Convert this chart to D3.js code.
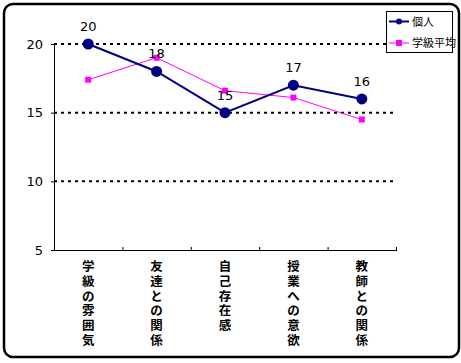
<!DOCTYPE html>
<html>
<head>
<meta charset="utf-8">
<script src="https://cdn.jsdelivr.net/npm/d3@7"></script>
<style>
  html, body { margin: 0; padding: 0; background: #fff; }
  svg { display: block; font-family: "Noto Sans CJK JP", "DejaVu Sans", sans-serif; }
</style>
</head>
<body>
<div id="chart"></div>
<script>
// categories and values
const categories = ["学級の雰囲気", "友達との関係", "自己存在感", "授業への意欲", "教師との関係"];
const personal = [20, 18, 15, 17, 16];
const classAvg = [17.4, 19.0, 16.6, 16.1, 14.5];
const yTicks = [5, 10, 15, 20];
const seriesNames = ["個人", "学級平均"];

const W = 461, H = 363;
const plot = { left: 54, right: 396, top: 44, bottom: 250 };

const svg = d3.select("#chart").append("svg")
    .attr("width", W)
    .attr("height", H);

// outer rounded frame
svg.append("rect")
    .attr("x", 4).attr("y", 4)
    .attr("width", 455).attr("height", 353)
    .attr("rx", 9).attr("ry", 9)
    .attr("fill", "#fff")
    .attr("stroke", "#000")
    .attr("stroke-width", 2.5);

const x = d3.scaleBand()
    .domain(categories)
    .range([plot.left, plot.right]);

const y = d3.scaleLinear()
    .domain([5, 20])
    .range([plot.bottom, plot.top]);

const cx = d => x(d) + x.bandwidth() / 2;

// dotted gridlines
svg.append("g")
    .selectAll("line")
    .data(yTicks.filter(t => t > 5))
    .enter()
    .append("line")
    .attr("x1", plot.left)
    .attr("x2", plot.right)
    .attr("y1", d => y(d))
    .attr("y2", d => y(d))
    .attr("stroke", "#000")
    .attr("stroke-width", 2)
    .attr("stroke-dasharray", "3,4");

// y axis
const yAxis = svg.append("g")
    .attr("transform", `translate(${plot.left},0)`)
    .call(d3.axisLeft(y).tickValues(yTicks).tickSize(3).tickPadding(8));
yAxis.select(".domain").attr("stroke", "#000").attr("d", `M0.5,${plot.top}V${plot.bottom + 0.5}`);
yAxis.selectAll("text")
    .style("font-family", "'DejaVu Sans', sans-serif")
    .style("font-size", "13px")
    .attr("fill", "#000");

// x axis (ticks at band boundaries, pointing up)
svg.append("line")
    .attr("x1", plot.left).attr("x2", plot.right + 1)
    .attr("y1", plot.bottom + 0.5).attr("y2", plot.bottom + 0.5)
    .attr("stroke", "#000");
svg.append("g")
    .selectAll("line")
    .data(categories)
    .enter()
    .append("line")
    .attr("x1", d => x(d) + x.bandwidth() + 0.5)
    .attr("x2", d => x(d) + x.bandwidth() + 0.5)
    .attr("y1", plot.bottom - 3)
    .attr("y2", plot.bottom)
    .attr("stroke", "#000");

// vertical category labels, one character per row
const catG = svg.append("g");
categories.forEach(c => {
    catG.selectAll(null)
        .data(Array.from(c))
        .enter()
        .append("text")
        .attr("x", cx(c))
        .attr("y", (ch, i) => 271 + i * 14.8)
        .attr("text-anchor", "middle")
        .style("font-size", "12.5px")
        .style("font-weight", "bold")
        .attr("fill", "#000")
        .text(ch => ch);
});

// class average series (magenta)
const line = d3.line()
    .x((d, i) => cx(categories[i]))
    .y(d => y(d));

svg.append("path")
    .datum(classAvg)
    .attr("fill", "none")
    .attr("stroke", "#ff00ff")
    .attr("stroke-width", 1)
    .attr("d", line);

svg.append("g")
    .selectAll("rect")
    .data(classAvg)
    .enter()
    .append("rect")
    .attr("x", (d, i) => cx(categories[i]) - 3)
    .attr("y", d => y(d) - 3)
    .attr("width", 6)
    .attr("height", 6)
    .attr("fill", "#ff00ff");

// personal series (navy)
svg.append("path")
    .datum(personal)
    .attr("fill", "none")
    .attr("stroke", "#000080")
    .attr("stroke-width", 2)
    .attr("d", line);

svg.append("g")
    .selectAll("circle")
    .data(personal)
    .enter()
    .append("circle")
    .attr("cx", (d, i) => cx(categories[i]))
    .attr("cy", d => y(d))
    .attr("r", 5.5)
    .attr("fill", "#000080");

// data labels
svg.append("g")
    .selectAll("text")
    .data(personal)
    .enter()
    .append("text")
    .attr("x", (d, i) => cx(categories[i]))
    .attr("y", d => y(d) - 13)
    .attr("text-anchor", "middle")
    .style("font-family", "'DejaVu Sans', sans-serif")
    .style("font-size", "13px")
    .attr("fill", "#000")
    .text(d => d);

// legend
const lg = svg.append("g");
lg.append("rect")
    .attr("x", 386.5).attr("y", 11.5)
    .attr("width", 66).attr("height", 41)
    .attr("fill", "#fff")
    .attr("stroke", "#000");

const legendColors = ["#000080", "#ff00ff"];
seriesNames.forEach((name, i) => {
    const ly = 21.5 + i * 21.5;
    lg.append("line")
        .attr("x1", 389).attr("x2", 409)
        .attr("y1", ly).attr("y2", ly)
        .attr("stroke", legendColors[i])
        .attr("stroke-width", i === 0 ? 2 : 1);
    if (i === 0) {
        lg.append("circle").attr("cx", 399).attr("cy", ly).attr("r", 3).attr("fill", legendColors[i]);
    } else {
        lg.append("rect").attr("x", 396).attr("y", ly - 3).attr("width", 6).attr("height", 6).attr("fill", legendColors[i]);
    }
    lg.append("text")
        .attr("x", 412)
        .attr("y", ly + 4)
        .style("font-size", "11px")
        .attr("fill", "#000")
        .text(name);
});
</script>
</body>
</html>
